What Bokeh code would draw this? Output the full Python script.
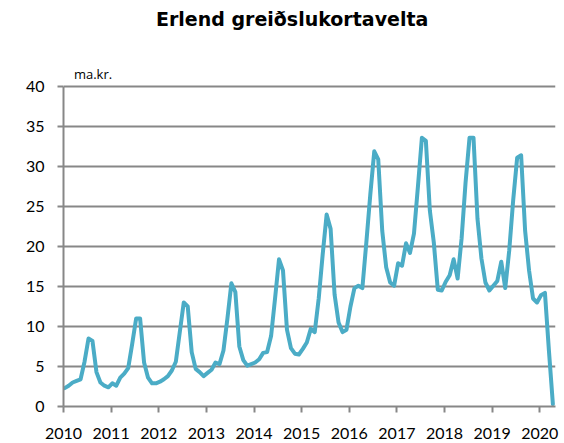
from bokeh.plotting import figure
from bokeh.models import Range1d, FixedTicker
from bokeh.core.properties import value
from bokeh.embed import file_html
from bokeh.resources import INLINE

# ---- data (ma.kr., monthly, Jan 2010 - Apr 2020) ----
start_year = 2010
v2010 = [2.3, 2.6, 3.0, 3.2, 3.4, 5.6, 8.5, 8.2, 4.3, 3.0, 2.6, 2.4]
v2011 = [2.9, 2.6, 3.6, 4.1, 4.8, 7.8, 11.0, 11.0, 5.5, 3.6, 2.9, 2.9]
v2012 = [3.1, 3.4, 3.8, 4.5, 5.6, 9.3, 13.0, 12.5, 6.8, 4.7, 4.3, 3.8]
v2013 = [4.2, 4.6, 5.5, 5.3, 7.0, 11.0, 15.4, 14.3, 7.5, 5.8, 5.1, 5.3]
v2014 = [5.5, 5.9, 6.7, 6.8, 8.8, 13.5, 18.4, 17.0, 9.6, 7.3, 6.6, 6.5]
v2015 = [7.2, 8.0, 9.7, 9.3, 13.5, 19.0, 24.0, 22.2, 14.0, 10.5, 9.3, 9.6]
v2016 = [12.5, 14.8, 15.1, 14.8, 20.5, 26.5, 31.9, 30.9, 22.0, 17.4, 15.5, 15.1]
v2017 = [17.9, 17.6, 20.4, 19.2, 21.6, 27.5, 33.6, 33.2, 24.5, 20.5, 14.6, 14.5]
v2018 = [15.6, 16.4, 18.4, 16.0, 21.0, 28.0, 33.6, 33.6, 23.5, 18.5, 15.5, 14.5]
v2019 = [15.1, 15.7, 18.1, 14.8, 19.5, 25.8, 31.1, 31.4, 22.0, 17.0, 13.5, 13.0]
v2020 = [13.9, 14.2, 7.0, 0.3]

year_ticks = [2010, 2011, 2012, 2013, 2014, 2015, 2016, 2017, 2018, 2019, 2020]
year_labels = ["2010", "2011", "2012", "2013", "2014", "2015", "2016", "2017", "2018", "2019", "2020"]
y_ticks = [0, 5, 10, 15, 20, 25, 30, 35, 40]

title_text = "Erlend greiðslukortavelta"
unit_text = "ma.kr."

values = v2010 + v2011 + v2012 + v2013 + v2014 + v2015 + v2016 + v2017 + v2018 + v2019 + v2020
x = [start_year + (i + 0.3) / 12.0 for i in range(len(values))]

FONT = "Lato"
GRAY = "#878787"
Y_TOP = 40          # top of the value axis
Y_VIEW = 50.75      # view extends above the axis to hold title / unit

p = figure(width=564, height=443, output_backend="svg", toolbar_location=None,
           x_range=Range1d(2010, 2020.33), y_range=Range1d(0, Y_VIEW),
           min_border_left=63, min_border_right=9, min_border_top=0, min_border_bottom=37)
p.outline_line_color = None
p.background_fill_color = "white"
p.border_fill_color = "white"

p.line(x, values, line_color="#4BACC6", line_width=4, line_join="round", line_cap="round")

# grid
p.xgrid.grid_line_color = None
p.ygrid.grid_line_color = GRAY
p.ygrid.grid_line_width = 2
p.ygrid.ticker = FixedTicker(ticks=y_ticks)

# y axis
p.yaxis.ticker = FixedTicker(ticks=y_ticks)
p.yaxis.bounds = (0, Y_TOP)
p.yaxis.axis_line_color = GRAY
p.yaxis.axis_line_width = 2
p.yaxis.major_tick_line_color = GRAY
p.yaxis.major_tick_line_width = 2
p.yaxis.major_tick_out = 6
p.yaxis.major_tick_in = 0
p.yaxis.minor_tick_line_color = None
p.yaxis.major_label_standoff = 13
p.yaxis.major_label_text_font = FONT
p.yaxis.major_label_text_font_size = "16px"
p.yaxis.major_label_text_color = "black"

# x axis
p.xaxis.ticker = FixedTicker(ticks=year_ticks)
p.xaxis.major_label_overrides = {t: l for t, l in zip(year_ticks, year_labels)}
p.xaxis.axis_line_color = GRAY
p.xaxis.axis_line_width = 2
p.xaxis.major_tick_line_color = GRAY
p.xaxis.major_tick_line_width = 2
p.xaxis.major_tick_out = 6
p.xaxis.major_tick_in = 0
p.xaxis.minor_tick_line_color = None
p.xaxis.major_label_standoff = 15
p.xaxis.major_label_text_font = FONT
p.xaxis.major_label_text_font_size = "16px"
p.xaxis.major_label_text_line_height = 0.6
p.xaxis.major_label_text_color = "black"

# unit label & title
p.text(x=[2010.62], y=[41.6], text=[unit_text], text_font=value("Open Sans"),
       text_font_size="13px", text_align="center", text_baseline="middle", text_color="black")
p.text(x=[2014.80], y=[48.5], text=[title_text], text_font=value("DejaVu Sans"),
       text_font_size="19px", text_font_style="bold", text_align="center",
       text_baseline="middle", text_color="black")

open("out.html", "w").write(file_html(p, INLINE))
